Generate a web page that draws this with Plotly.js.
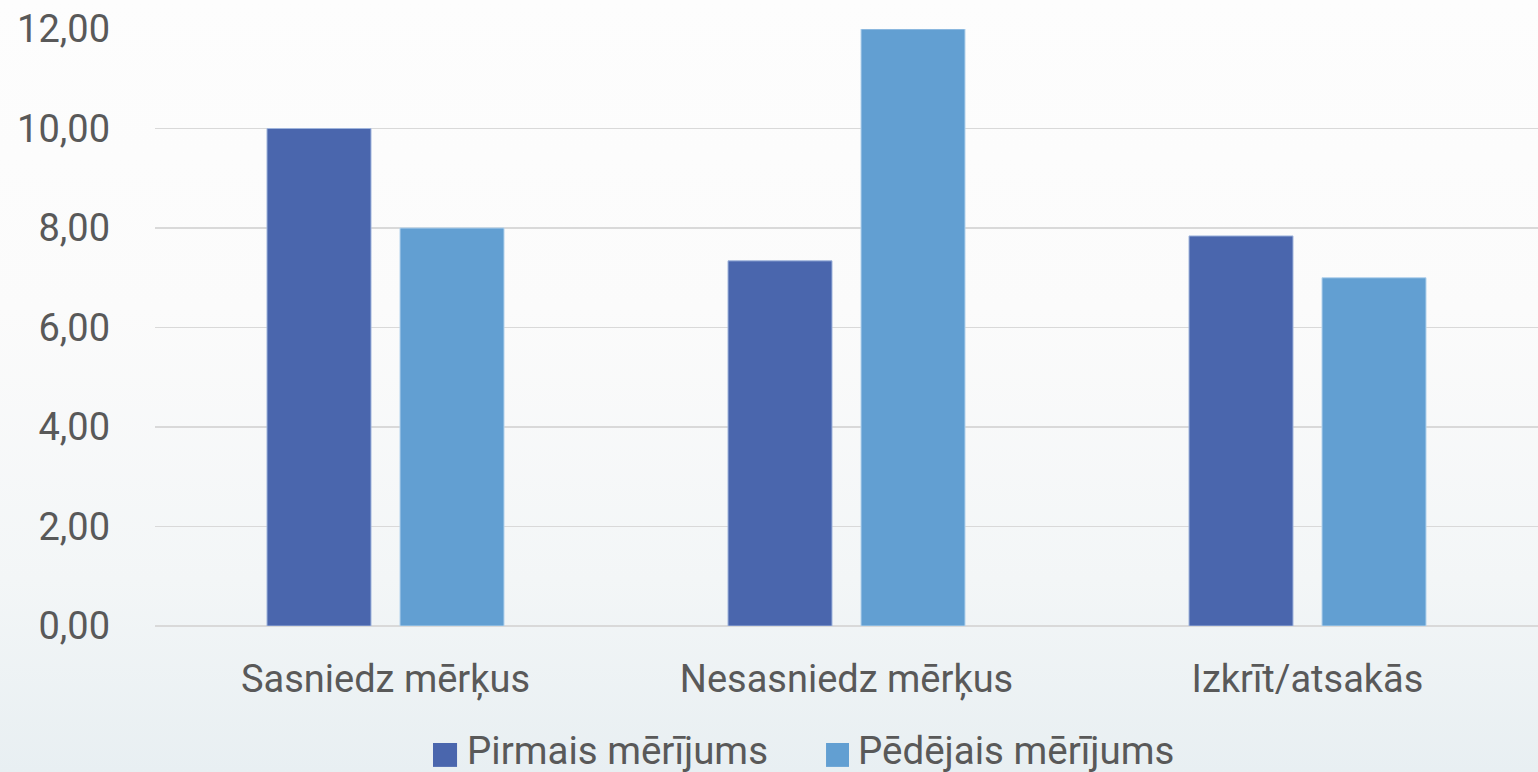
<!DOCTYPE html>
<html>
<head>
<meta charset="utf-8">
<script src="https://cdn.plot.ly/plotly-3.0.1.min.js"></script>
<style>
  html, body { margin: 0; padding: 0; }
  body {
    width: 1538px; height: 772px; overflow: hidden;
    background: linear-gradient(to bottom, #fdfdfd 0%, #fbfbfb 40%, #f3f6f7 75%, #e8eff2 100%);
  }
  #chart { width: 1538px; height: 772px; }
</style>
</head>
<body>
<div id="chart"></div>
<script>
// Categories and measurement series
const categories = ['Sasniedz mērķus', 'Nesasniedz mērķus', 'Izkrīt/atsakās'];
const firstMeasurement = [10.0, 7.34, 7.84];
const lastMeasurement = [8.0, 12.0, 7.0];
const seriesNames = ['Pirmais mērījums', 'Pēdējais mērījums'];
const seriesColors = ['#4a66ad', '#629fd2'];
const yTicks = [0, 2, 4, 6, 8, 10, 12];

const fontFamily = 'Roboto, "Open Sans", sans-serif';
const textColor = '#595959';

const traces = [
  {
    type: 'bar', name: seriesNames[0], x: categories, y: firstMeasurement,
    marker: { color: seriesColors[0], line: { color: '#9fb4dc', width: 1 } },
    hoverinfo: 'x+y'
  },
  {
    type: 'bar', name: seriesNames[1], x: categories, y: lastMeasurement,
    marker: { color: seriesColors[1], line: { color: '#b3d2ec', width: 1 } },
    hoverinfo: 'x+y'
  }
];

// Legend below the plot: square swatches with labels (paper coordinates)
const legendY = [-0.236, -0.196];
const legendItems = [
  { box: [0.201, 0.2184], textX: 0.2245 },
  { box: [0.4852, 0.5018], textX: 0.507 }
];
const shapes = legendItems.map(function (it, i) {
  return {
    type: 'rect', xref: 'paper', yref: 'paper',
    x0: it.box[0], x1: it.box[1], y0: legendY[0], y1: legendY[1],
    fillcolor: seriesColors[i], line: { width: 0 }, layer: 'above'
  };
});
const annotations = legendItems.map(function (it, i) {
  return {
    xref: 'paper', yref: 'paper', x: it.textX, y: -0.209,
    xanchor: 'left', yanchor: 'middle', showarrow: false,
    text: seriesNames[i],
    font: { family: fontFamily, color: textColor, size: 38.5 }
  };
});

const layout = {
  width: 1538, height: 772,
  margin: { l: 155, r: 0, t: 29, b: 146, autoexpand: false },
  paper_bgcolor: 'rgba(0,0,0,0)',
  plot_bgcolor: 'rgba(0,0,0,0)',
  separators: ',.',
  barmode: 'group',
  bargap: 0.423,
  bargroupgap: 0.218,
  font: { family: fontFamily, color: textColor, size: 38 },
  xaxis: {
    type: 'category',
    showgrid: false, zeroline: false, showline: false,
    ticks: '', ticklabelstandoff: 27,
    tickfont: { family: fontFamily, color: textColor, size: 38 }
  },
  yaxis: {
    range: [0, 12], tickvals: yTicks, tickformat: '.2f',
    showgrid: true, gridcolor: '#d9d9d9', gridwidth: 1.5,
    zeroline: true, zerolinecolor: '#d9d9d9', zerolinewidth: 1.5,
    showline: false, ticks: '', ticklabelstandoff: 44,
    tickfont: { family: fontFamily, color: textColor, size: 38 }
  },
  showlegend: false,
  shapes: shapes,
  annotations: annotations
};

Plotly.newPlot('chart', traces, layout, { staticPlot: true, displayModeBar: false });
</script>
</body>
</html>
